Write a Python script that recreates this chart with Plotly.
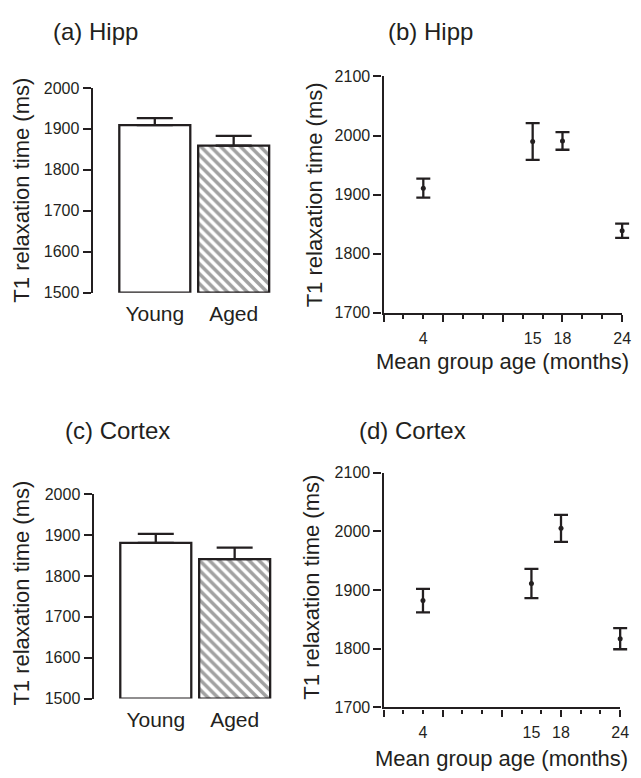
import plotly.graph_objects as go

W, H = 641, 778
INK = "#231f20"
FONT = "Liberation Sans, Arial, Helvetica, sans-serif"

# ---- data ----
groups = ["Young", "Aged"]
hipp_bar_mean = [1909, 1859]
hipp_bar_sem = [17, 24]
cortex_bar_mean = [1881, 1841]
cortex_bar_sem = [22, 28]
bar_base = 1500

ages = [4, 15, 18, 24]
hipp_age_mean = [1911, 1990, 1991, 1839]
hipp_age_sem = [16, 31, 15, 12]
cortex_age_mean = [1882, 1911, 2005, 1817]
cortex_age_sem = [20, 25, 23, 18]

age_tick_vals = [4, 15, 18, 24]
age_tick_text = ["4", "15", "18", "24"]
age_major_ticks = [0, 6, 12, 18, 24]
age_minor_ticks = [2, 4, 8, 10, 14, 16, 20, 22]
age_range = [0, 24]


def px(x):
    return x / W


def py(y):
    return 1 - y / H


fig = go.Figure()


def add_bars(means, sems, xa, ya):
    fig.add_trace(go.Bar(
        x=groups,
        y=[m - bar_base for m in means],
        base=bar_base,
        width=0.9,
        marker=dict(
            color=["white", "white"],
            line=dict(color=INK, width=2.3),
            pattern=dict(shape=["", "\\"], fgcolor=INK, bgcolor="white",
                         size=7, solidity=0.5),
        ),
        error_y=dict(type="data", symmetric=False, array=sems,
                     arrayminus=[0] * len(sems), color=INK, thickness=2.3, width=18),
        cliponaxis=False,
        showlegend=False,
        xaxis=xa, yaxis=ya,
    ))


def add_points(means, sems, xa, ya):
    fig.add_trace(go.Scatter(
        x=ages, y=means, mode="markers",
        marker=dict(color=INK, size=5),
        error_y=dict(type="data", array=sems, color=INK, thickness=2.3, width=7),
        cliponaxis=False,
        showlegend=False,
        xaxis=xa, yaxis=ya,
    ))


# panel geometry (pixel positions of the axis frames)
a_x, a_y = (94, 277), (291, 81.7)
b_x, b_y = (389, 631), (311.7, 70)
c_x, c_y = (95, 278), (706, 497)
d_x, d_y = (389, 629), (715, 475)


def wide_range(x0, x1):
    # same month->pixel scale as the visible axis, but extending to the page edge
    return [age_range[0], age_range[1] * (W - x0) / (x1 - x0)]


add_bars(hipp_bar_mean, hipp_bar_sem, "x", "y")
add_points(hipp_age_mean, hipp_age_sem, "x7", "y2")
add_bars(cortex_bar_mean, cortex_bar_sem, "x3", "y3")
add_points(cortex_age_mean, cortex_age_sem, "x8", "y4")
# empty traces so the visible axes / label-only overlay axes are rendered
for xa, ya in [("x2", "y2"), ("x4", "y4"), ("x5", "y2"), ("x6", "y4")]:
    fig.add_trace(go.Scatter(x=[], y=[], xaxis=xa, yaxis=ya, showlegend=False))

yax_common = dict(showline=True, linewidth=2.3, linecolor=INK, ticks="outside",
                  ticklen=8, tickwidth=2.3, tickcolor=INK, dtick=100,
                  showgrid=False, zeroline=False,
                  tickfont=dict(family=FONT, size=16, color=INK))
xbar_common = dict(type="category", showline=False, ticks="", showgrid=False,
                   zeroline=False, range=[-0.7875, 1.5], ticklabelstandoff=6,
                   tickfont=dict(family=FONT, size=21, color=INK))
xage_common = dict(range=age_range, showline=True, linewidth=2.3, linecolor=INK,
                   showgrid=False, zeroline=False,
                   tickmode="array", tickvals=age_major_ticks, ticks="outside",
                   ticklen=7, tickwidth=2.3, tickcolor=INK, showticklabels=False,
                   minor=dict(tickmode="array", tickvals=age_minor_ticks,
                              ticks="outside", ticklen=4, tickwidth=2.3,
                              tickcolor=INK))
xlab_common = dict(range=age_range, showline=False, showgrid=False, zeroline=False,
                   tickmode="array", tickvals=age_tick_vals, ticktext=age_tick_text,
                   ticks="", ticklabelstandoff=14,
                   tickfont=dict(family=FONT, size=16, color=INK))

fig.update_layout(
    width=W, height=H,
    margin=dict(l=0, r=0, t=0, b=0),
    paper_bgcolor="white", plot_bgcolor="rgba(0,0,0,0)",
    bargap=0.1,
    font=dict(family=FONT, color=INK),
    xaxis=dict(domain=[px(a_x[0]), px(a_x[1])], anchor="y", **xbar_common),
    yaxis=dict(domain=[py(a_y[0]), py(a_y[1])], anchor="x", range=[1500, 2000], **yax_common),
    xaxis2=dict(domain=[px(b_x[0]), px(b_x[1])], anchor="y2", **xage_common),
    yaxis2=dict(domain=[py(b_y[0]), py(b_y[1])], anchor="x2", range=[1700, 2100], **yax_common),
    xaxis3=dict(domain=[px(c_x[0]), px(c_x[1])], anchor="y3", **xbar_common),
    yaxis3=dict(domain=[py(c_y[0]), py(c_y[1])], anchor="x3", range=[1500, 2000], **yax_common),
    xaxis4=dict(domain=[px(d_x[0]), px(d_x[1])], anchor="y4", **xage_common),
    yaxis4=dict(domain=[py(d_y[0]), py(d_y[1])], anchor="x4", range=[1700, 2100], **yax_common),
    xaxis5=dict(overlaying="x2", anchor="y2", side="bottom", **xlab_common),
    xaxis6=dict(overlaying="x4", anchor="y4", side="bottom", **xlab_common),
    xaxis7=dict(domain=[px(b_x[0]), 1], anchor="y2", range=wide_range(*b_x), visible=False),
    xaxis8=dict(domain=[px(d_x[0]), 1], anchor="y4", range=wide_range(*d_x), visible=False),
)

annos = [
    ("(a) Hipp", 52, 24, "left", 24, 0),
    ("(b) Hipp", 392, 24, "left", 24, 0),
    ("(c) Cortex", 64, 432, "left", 24, 0),
    ("(d) Cortex", 362, 432, "left", 24, 0),
    ("T1 relaxation time (ms)", 22, 186, "center", 22, -90),
    ("T1 relaxation time (ms)", 319, 191, "center", 22, -90),
    ("T1 relaxation time (ms)", 22, 598, "center", 22, -90),
    ("T1 relaxation time (ms)", 316, 592, "center", 22, -90),
    ("Mean group age (months)", 510, 361, "center", 22, 0),
    ("Mean group age (months)", 509, 767, "center", 22, 0),
]
for text, x, y, anchor, size, angle in annos:
    fig.add_annotation(text=text, x=px(x), y=py(y), xref="paper", yref="paper",
                       xanchor=anchor, yanchor="middle", showarrow=False,
                       textangle=angle, font=dict(family=FONT, size=size, color=INK))

fig.write_html(
    "out.html",
    config={"displayModeBar": False},
    post_script="document.body.style.margin='0';document.body.style.padding='0';"
                "document.body.style.overflow='hidden';",
)
